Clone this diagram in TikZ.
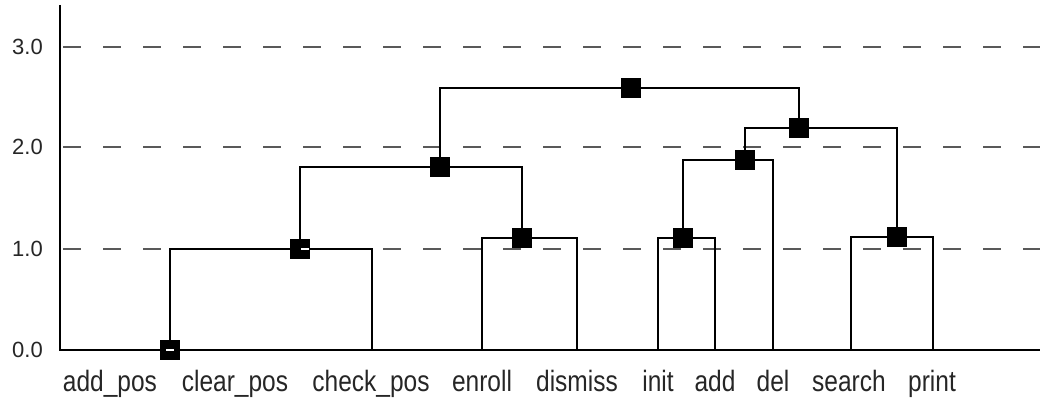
\documentclass[tikz,border=0pt]{standalone}
\usepackage{fontspec}
\setmainfont{Liberation Sans}
\newcommand{\talltext}[1]{\scalebox{1}[1.2]{#1}}
\begin{document}
\begin{tikzpicture}[x=1pt,y=-1pt,
  axisline/.style={line width=2.8pt,black},
  grid/.style={line width=1.3pt,black!65,dash pattern=on 18pt off 22pt},
  tree/.style={line width=1.4pt,black},
  marker/.style={rectangle,fill=black,minimum size=20pt,inner sep=0pt},
  leaflabel/.style={font=\fontsize{24.5}{28}\selectfont,text=black!85,inner sep=0pt,anchor=base},
  ticklabel/.style={font=\fontsize{22}{26}\selectfont,text=black!85,inner sep=0pt,anchor=east}]
\useasboundingbox[fill=white] (0,0) rectangle (1040,403);

% grid lines
\foreach \yy in {47,147,249} {\draw[grid] (63,\yy) -- (1040,\yy);}

% tick labels
\node[ticklabel] (t3) at (43,47) {3.0};
\node[ticklabel] (t2) at (43,147) {2.0};
\node[ticklabel] (t1) at (43,249) {1.0};
\node[ticklabel] (t0) at (43,350) {0.0};

% axes
\coordinate (ytop) at (60,5);
\coordinate (origin) at (60,350);
\coordinate (xend) at (1040,350);
\draw[axisline] (ytop) -- (origin) -- (xend);

% leaves
\coordinate (checkpos) at (372,350);
\coordinate (enroll) at (482,350);
\coordinate (dismiss) at (577,350);
\coordinate (init) at (658,350);
\coordinate (add) at (715,350);
\coordinate (del) at (773,350);
\coordinate (search) at (851,350);
\coordinate (print) at (933,350);

% merge markers
\node[marker] (m1) at (170,350) {};
\node[marker] (m2) at (300,249) {};
\node[marker] (m3) at (522,238) {};
\node[marker] (m4) at (440,167) {};
\node[marker] (m5) at (683,238) {};
\node[marker] (m6) at (745,160) {};
\node[marker] (m7) at (897,237) {};
\node[marker] (m8) at (799,128) {};
\node[marker] (m9) at (631,88) {};

% connectors
\draw[tree] (m1.center) |- (m2.center) -| (checkpos);
\draw[tree] (enroll) |- (m3.center) -| (dismiss);
\draw[tree] (m2.center) |- (m4.center) -| (m3.center);
\draw[tree] (init) |- (m5.center) -| (add);
\draw[tree] (m5.center) |- (m6.center) -| (del);
\draw[tree] (search) |- (m7.center) -| (print);
\draw[tree] (m6.center) |- (m8.center) -| (m7.center);
\draw[tree] (m4.center) |- (m9.center) -| (m8.center);

% small white marks inside two markers
\draw[white,line width=1.4pt] (m1.center) ++(-4,0) -- ++(8,0);
\draw[white,line width=1.4pt] (m2.center) ++(1,0) -- ++(8,0);

% leaf labels
\node[leaflabel] (l1) at (110,391) {\talltext{add\_pos}};
\node[leaflabel] (l2) at (235,391) {\talltext{clear\_pos}};
\node[leaflabel] (l3) at (371,391) {\talltext{check\_pos}};
\node[leaflabel] (l4) at (482,391) {\talltext{enroll}};
\node[leaflabel] (l5) at (577,391) {\talltext{dismiss}};
\node[leaflabel] (l6) at (658,391) {\talltext{init}};
\node[leaflabel] (l7) at (715,391) {\talltext{add}};
\node[leaflabel] (l8) at (773,391) {\talltext{del}};
\node[leaflabel] (l9) at (849,391) {\talltext{search}};
\node[leaflabel] (l10) at (932,391) {\talltext{print}};
\end{tikzpicture}
\end{document}
